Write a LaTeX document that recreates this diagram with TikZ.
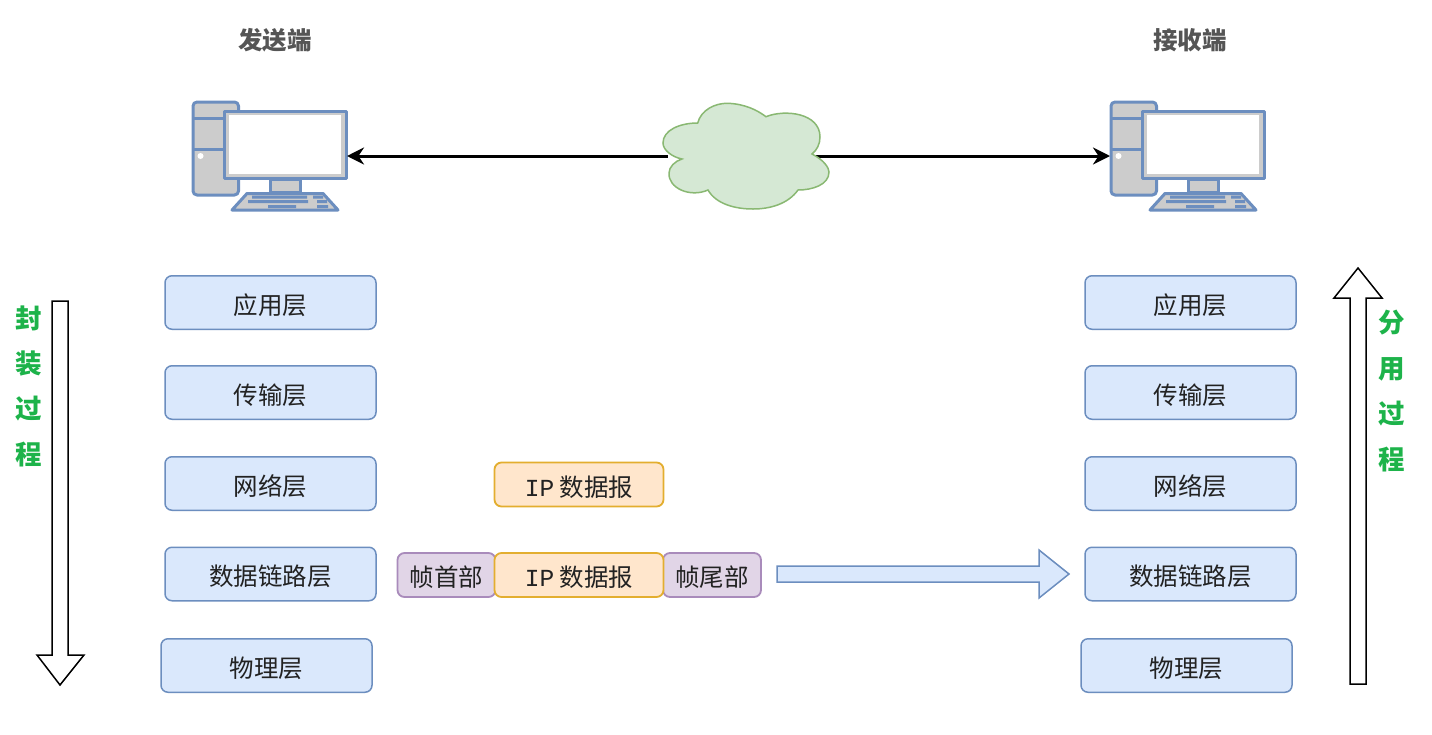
\documentclass[tikz,border=0pt]{standalone}
\usepackage{fontspec}
\usetikzlibrary{arrows.meta}
\setmainfont{Noto Sans CJK SC}
\newfontfamily\latinmono{Liberation Mono}
\definecolor{pcblue}{HTML}{6C8EBF}
\definecolor{pcgray}{HTML}{CCCCCC}
\definecolor{layerfill}{HTML}{DAE8FC}
\definecolor{orangefill}{HTML}{FFE6CC}
\definecolor{orangeline}{HTML}{E3AE2F}
\definecolor{purplefill}{HTML}{E1D5E7}
\definecolor{purpleline}{HTML}{A98BBB}
\definecolor{cloudfill}{HTML}{D5E8D4}
\definecolor{cloudline}{HTML}{89B872}
\definecolor{titlegray}{HTML}{555555}
\definecolor{green2}{HTML}{1DB34A}
\definecolor{txt}{HTML}{222222}
\newcommand{\low}[1]{\raisebox{-2.5pt}[\height][\depth]{#1}}
\tikzset{
  pcpart/.style={draw=pcblue,fill=pcgray,line width=3pt,line join=round},
  boxbase/.style={rounded corners=7pt,line width=1.5pt,inner sep=0pt,outer sep=0pt,anchor=center,text=txt,font=\fontsize{24.5}{28}\selectfont},
  layer/.style={boxbase,draw=pcblue,fill=layerfill,minimum width=211pt,minimum height=53.5pt},
  ipbox/.style={boxbase,draw=orangeline,fill=orangefill,line width=1.8pt,minimum width=169pt},
  framebox/.style={boxbase,draw=purpleline,fill=purplefill,line width=1.8pt,minimum width=98pt,minimum height=44pt},
  titlelabel/.style={font=\fontsize{24.5}{28}\selectfont\bfseries,text=titlegray,inner sep=0pt},
  vlabel/.style={font=\fontsize{26.5}{30}\selectfont\bfseries,text=green2,inner sep=0pt},
  hollow/.style={draw=black,fill=white,line width=1.5pt,line join=miter},
  link/.style={draw=black,line width=3pt,-{Stealth[length=17pt,width=17pt]}},
}
\newcommand{\pcicon}[2]{%
  \begin{scope}[shift={(#1,0)}]
    \draw[pcpart,rounded corners=4pt] (193,102) rectangle (238.5,195);
    \draw[pcblue,line width=3pt] (193,118) -- (225,118) (193,149) -- (225,149);
    \fill[white] (200.5,156) circle (3pt);
    \draw[pcpart] (270,179) rectangle (300,192);
    \draw[pcpart] (247,193.5) -- (323,193.5) -- (338,210) -- (232,210) -- cycle;
    \fill[pcblue] (252,195.5) rectangle (307,198.5) (313,195.5) rectangle (323,198.5)
      (248,200) rectangle (308,203) (317,200) rectangle (327,203)
      (268,205) rectangle (296,208) (317,205) rectangle (328,208);
    \node[pcpart,minimum width=121.5pt,minimum height=67pt,inner sep=0pt,outer sep=0pt,anchor=north west] (#2) at (224.5,111.5) {};
    \fill[white] (228.5,114.5) rectangle (341,174);
  \end{scope}}
\begin{document}
\begin{tikzpicture}[x=1pt,y=-1pt]
\useasboundingbox (0,0) rectangle (1432,734);
\fill[white] (0,0) rectangle (1432,734);
\node[titlelabel] (titleL) at (275,40) {发送端};
\node[titlelabel] (titleR) at (1190,40) {接收端};
\pcicon{0}{monL}
\pcicon{918}{monR}
\coordinate (portL) at (347,156);
\coordinate (portR) at (1110,156);
\node[minimum width=148pt,minimum height=100pt,inner sep=0pt] (cloud) at (742,156) {};
\draw[link] (cloud.west) -- (portL);
\draw[link] (cloud.east) -- (portR);
\draw[draw=cloudline,fill=cloudfill,line width=1.5pt]
  (697.7,123)
  .. controls (701,110) and (715,103) .. (728,103.3)
  .. controls (745,104) and (757,110) .. (766,116.7)
  .. controls (785,109) and (820,113) .. (820,137)
  .. controls (820,144) and (817,150) .. (812,154)
  .. controls (824,160) and (829,168) .. (829,172)
  .. controls (829,185) and (812,190) .. (798,190)
  .. controls (788,204) and (770,209) .. (753,209)
  .. controls (735,209) and (716,204) .. (708,190)
  .. controls (690,198) and (668,188) .. (669,173)
  .. controls (669,167) and (675,161) .. (682,159)
  .. controls (672,157) and (663,150) .. (663,143)
  .. controls (663,130) and (680,123) .. (697.7,123) -- cycle;
\foreach \cx/\pre in {270.5/a,1190.5/b}{
  \node[layer] (\pre app) at (\cx,302.5) {\low{应用层}};
  \node[layer] (\pre tra) at (\cx,392.5) {\low{传输层}};
  \node[layer] (\pre net) at (\cx,483.5) {\low{网络层}};
  \node[layer] (\pre dl) at (\cx,574) {\low{数据链路层}};
}
\node[layer] (aphy) at (266.5,665.5) {\low{物理层}};
\node[layer] (bphy) at (1186.5,665.5) {\low{物理层}};
\node[ipbox,minimum height=44pt] (ip1) at (579,484.5) {\low{{\latinmono IP} 数据报}};
\node[framebox] (fh) at (446.5,575) {\low{帧首部}};
\node[framebox] (ft) at (712,575) {\low{帧尾部}};
\node[ipbox,minimum height=44pt] (ip2) at (579,575) {\low{{\latinmono IP} 数据报}};
\draw[hollow] (52,301) -- (68,301) -- (68,655) -- (84,655) -- (60,685) -- (37,655) -- (52,655) -- cycle;
\draw[hollow] (1350,684) -- (1366,684) -- (1366,298) -- (1382,298) -- (1358,268) -- (1334,298) -- (1350,298) -- cycle;
\draw[draw=pcblue,fill=layerfill,line width=1.5pt] (777,566) -- (1039,566) -- (1039,550) -- (1069,574) -- (1039,598) -- (1039,582) -- (777,582) -- cycle;
\node[vlabel] (v1) at (29,318) {封};
\node[vlabel] (v2) at (29,364) {装};
\node[vlabel] (v3) at (29,409) {过};
\node[vlabel] (v4) at (29,455) {程};
\node[vlabel] (u1) at (1392,323) {分};
\node[vlabel] (u2) at (1392,369) {用};
\node[vlabel] (u3) at (1392,414) {过};
\node[vlabel] (u4) at (1392,460) {程};
\end{tikzpicture}
\end{document}
